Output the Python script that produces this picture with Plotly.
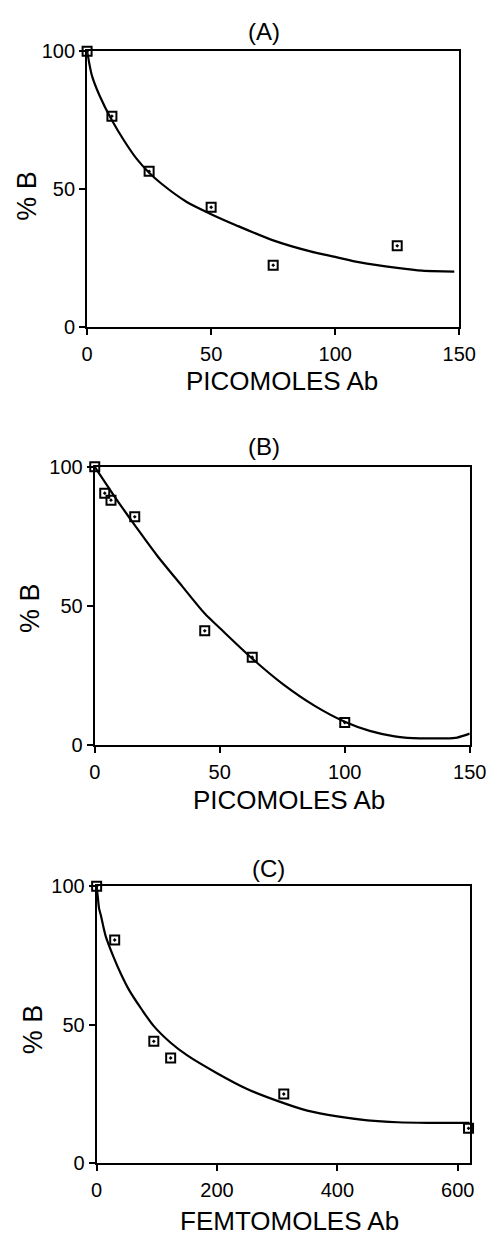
import plotly.graph_objects as go

# ---------------- data ----------------
a_pts_x = [0, 10, 25, 50, 75, 125]
a_pts_y = [100, 76.5, 56.5, 43.5, 22.5, 29.5]
a_fit_x = [0, 1, 2, 5, 10, 15, 20, 25, 30, 40, 50, 60, 75, 90, 100, 110, 125, 135, 148]
a_fit_y = [100, 95, 91, 84, 75, 67.5, 61, 56, 52, 45.5, 41, 37, 31.5, 27.5, 25.5, 23.5, 21.5, 20.5, 20.2]

b_pts_x = [0, 4, 6.5, 16, 44, 63, 100]
b_pts_y = [100, 90.5, 88, 82, 41, 31.5, 8]
b_fit_x = [0, 5, 10, 16, 25, 35, 44, 50, 63, 75, 88, 100, 110, 120, 125, 130, 135, 140, 145, 150]
b_fit_y = [100, 93.2, 86.6, 79, 68, 57, 47.2, 42, 31, 22, 14, 8.3, 5, 3, 2.5, 2.3, 2.3, 2.3, 2.6, 4]

c_pts_x = [0, 30, 95, 123, 311, 618]
c_pts_y = [100, 80.6, 44, 38, 25, 12.6]
c_fit_x = [0, 2, 4, 7, 15, 28, 40, 54, 75, 95, 123, 150, 200, 250, 311, 350, 400, 450, 500, 550, 620]
c_fit_y = [100, 96, 92, 89.5, 82, 74.5, 68.5, 62.5, 55.5, 49.5, 43.5, 39, 32.5, 26.8, 21.7, 19, 16.9, 15.5, 14.8, 14.6, 14.6]

panel_titles = ["(A)", "(B)", "(C)"]
x_titles = ["PICOMOLES Ab", "PICOMOLES Ab", "FEMTOMOLES Ab"]
y_title = "% B"
x_ranges = [[0, 150], [0, 150], [0, 620]]
x_ticks = [[0, 50, 100, 150], [0, 50, 100, 150], [0, 200, 400, 600]]
y_ticks = [0, 50, 100]

# ---------------- layout helpers ----------------
W, H = 502, 1243
FONT = "Liberation Sans, Arial, sans-serif"


def px_x(v):
    return v / W


def px_y(v):
    return 1 - v / H


# plot-area boxes in pixels: (left, right, top, bottom)
boxes = [(85, 475, 41, 322), (93, 486, 464, 747), (95, 486, 891, 1173)]
title_pos = [(270, 21), (270, 443), (275, 873)]
xtitle_pos = [(289, 377), (297, 803), (297, 1232)]
ytitle_pos = [(22, 188), (25, 608), (28, 1037)]

fig = go.Figure()
series = [(a_pts_x, a_pts_y, a_fit_x, a_fit_y),
          (b_pts_x, b_pts_y, b_fit_x, b_fit_y),
          (c_pts_x, c_pts_y, c_fit_x, c_fit_y)]

layout = dict(
    width=W, height=H,
    margin=dict(l=0, r=0, t=0, b=0),
    paper_bgcolor="white", plot_bgcolor="white",
    showlegend=False,
    font=dict(family=FONT, color="black"),
)
annotations = []

for i, (px_, py_, fx, fy) in enumerate(series):
    n = "" if i == 0 else str(i + 1)
    xa, ya = "x" + n, "y" + n
    fig.add_trace(go.Scatter(x=fx, y=fy, mode="lines", xaxis=xa, yaxis=ya,
                             line=dict(color="black", width=2.2, shape="spline", smoothing=0.8),
                             hoverinfo="skip"))
    fig.add_trace(go.Scatter(x=px_, y=py_, mode="markers", xaxis=xa, yaxis=ya,
                             cliponaxis=False,
                             marker=dict(symbol="square-open-dot", size=9, color="black",
                                         line=dict(color="black", width=2))))
    l, r, t, b = boxes[i]
    common = dict(showline=True, linecolor="black", linewidth=2, mirror=True,
                  showgrid=False, zeroline=False, ticks="outside", ticklen=6,
                  tickwidth=1.5, tickcolor="black",
                  tickfont=dict(family=FONT, size=20, color="black"))
    layout["xaxis" + n] = dict(common, domain=[px_x(l), px_x(r)], range=x_ranges[i],
                               tickvals=x_ticks[i], anchor=ya, ticklabelstandoff=2)
    layout["yaxis" + n] = dict(common, domain=[px_y(b), px_y(t)], range=[0, 100],
                               tickvals=y_ticks, anchor=xa)
    tx, ty = title_pos[i]
    annotations.append(dict(text=panel_titles[i], x=px_x(tx), y=px_y(ty), xref="paper",
                            yref="paper", showarrow=False, xanchor="center", yanchor="middle",
                            font=dict(family=FONT, size=24, color="black")))
    tx, ty = xtitle_pos[i]
    annotations.append(dict(text=x_titles[i], x=px_x(tx), y=px_y(ty), xref="paper",
                            yref="paper", showarrow=False, xanchor="center", yanchor="middle",
                            font=dict(family=FONT, size=26, color="black")))
    tx, ty = ytitle_pos[i]
    annotations.append(dict(text=y_title, x=px_x(tx), y=px_y(ty), xref="paper",
                            yref="paper", showarrow=False, xanchor="center", yanchor="middle",
                            textangle=-90,
                            font=dict(family=FONT, size=27, color="black")))

layout["annotations"] = annotations
fig.update_layout(**layout)
fig.write_html("out.html")
